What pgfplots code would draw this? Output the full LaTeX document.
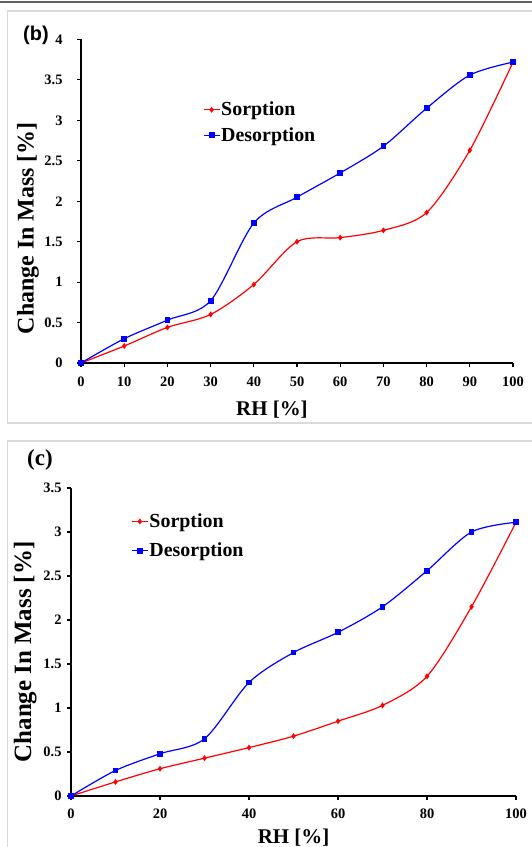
\documentclass[border=0pt]{standalone}
\usepackage{pgfplots}
\pgfplotsset{compat=1.18}
\usepackage{pgfplotstable}
\usepackage{fontspec}
\setmainfont{Liberation Serif}
\newfontfamily\sansb{Liberation Sans}
\definecolor{panelgray}{HTML}{D9D9D9}
\definecolor{rulegray}{HTML}{606060}

\pgfplotstableread{
x y
0 0
10 0.21
20 0.44
30 0.60
40 0.97
50 1.50
60 1.55
70 1.64
80 1.86
90 2.63
100 3.72
}\bsorp
\pgfplotstableread{
x y
0 0
10 0.30
20 0.53
30 0.77
40 1.73
50 2.05
60 2.35
70 2.68
80 3.15
90 3.56
100 3.72
}\bdesorp
\pgfplotstableread{
x y
0 0
10 0.16
20 0.31
30 0.43
40 0.55
50 0.68
60 0.85
70 1.03
80 1.36
90 2.15
100 3.11
}\csorp
\pgfplotstableread{
x y
0 0
10 0.29
20 0.48
30 0.65
40 1.29
50 1.63
60 1.86
70 2.15
80 2.56
90 3.00
100 3.11
}\cdesorp

\pgfplotsset{
  common/.style={
    scale only axis,
    clip=false,
    axis lines=left,
    axis line style={-, line width=1.3bp, black},
    xmin=0, xmax=100, ymin=0,
    tick align=outside,
    major tick length=4bp,
    tick style={line width=1.1bp, black},
    /pgf/number format/assume math mode=true,
    ticklabel style={font=\bfseries\fontsize{14.5}{14.5}\selectfont},
    label style={font=\bfseries\fontsize{21}{21}\selectfont},
    legend cell align=left,
    legend image code/.code={\draw[mark repeat=2,mark phase=2] plot coordinates {(0bp,0bp) (8bp,0bp) (16bp,0bp)};},
  },
  sorp/.style={red, line width=1.2bp, smooth, mark=diamond*, mark size=2bp, mark options={solid}},
  desorp/.style={blue, line width=1.2bp, smooth, mark=square*, mark size=2.3bp, mark options={solid}},
}

\begin{document}
\begin{tikzpicture}
\useasboundingbox (0bp,0bp) rectangle (532bp,847bp);
\draw[rulegray, line width=1.6bp] (0bp,845bp) -- (532bp,845bp);
\draw[panelgray, line width=1.5bp] (7.5bp,836bp) rectangle (560bp,424bp);
\draw[panelgray, line width=1.5bp] (7.5bp,406bp) rectangle (560bp,-20bp);
\node[font=\sansb\bfseries\fontsize{20}{20}\selectfont, anchor=west, inner sep=0pt] at (23bp,812bp) {(b)};
\node[font=\bfseries\fontsize{23}{23}\selectfont, anchor=west, inner sep=0pt] at (27bp,387bp) {(c)};

\begin{axis}[common,
  at={(81bp,484bp)}, anchor=south west,
  width=432bp, height=323.5bp,
  ymax=4,
  xtick={0,10,...,100},
  ytick={0,0.5,...,4},
  xticklabel style={yshift=-6bp},
  yticklabel style={xshift=-11bp},
  xlabel={RH [\%]},
  ylabel={Change In Mass [\%]},
  xlabel style={at={(axis description cs:0.442,-0.145)}, anchor=center},
  ylabel style={at={(axis description cs:-0.123,0.417)}, anchor=center, font=\bfseries\fontsize{24}{24}\selectfont},
  legend style={draw=none, fill=none, at={(axis description cs:0.282,0.81)}, anchor=north west,
    font=\bfseries\fontsize{20}{20}\selectfont, row sep=8bp, inner sep=0pt, nodes={inner sep=1bp}},
]
\addplot[sorp] table[x=x,y=y] {\bsorp};
\addlegendentry{Sorption}
\addplot[desorp] table[x=x,y=y] {\bdesorp};
\addlegendentry{Desorption}
\end{axis}

\begin{axis}[common,
  at={(71bp,51bp)}, anchor=south west,
  width=445bp, height=308bp,
  ymax=3.5,
  xtick={0,20,...,100},
  ytick={0,0.5,...,3.5},
  xticklabel style={yshift=-5bp},
  yticklabel style={xshift=-2bp},
  xlabel={RH [\%]},
  ylabel={Change In Mass [\%]},
  xlabel style={at={(axis description cs:0.5,-0.136)}, anchor=center},
  ylabel style={at={(axis description cs:-0.103,0.468)}, anchor=center, font=\bfseries\fontsize{25}{25}\selectfont},
  legend style={draw=none, fill=none, at={(axis description cs:0.135,0.92)}, anchor=north west,
    font=\bfseries\fontsize{20}{20}\selectfont, row sep=12bp, inner sep=0pt, nodes={inner sep=1bp}},
]
\addplot[sorp] table[x=x,y=y] {\csorp};
\addlegendentry{Sorption}
\addplot[desorp] table[x=x,y=y] {\cdesorp};
\addlegendentry{Desorption}
\end{axis}
\end{tikzpicture}
\end{document}
